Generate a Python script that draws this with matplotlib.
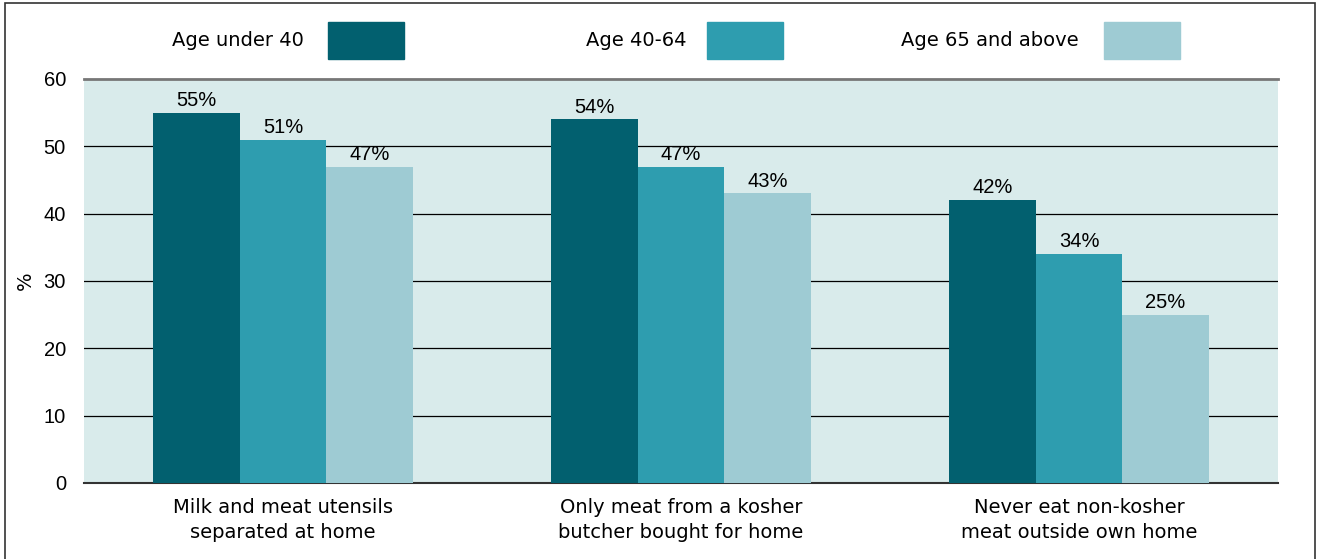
import matplotlib.pyplot as plt
from matplotlib.patches import Rectangle
import numpy as np

plt.rcParams['font.family'] = ['Liberation Sans', 'DejaVu Sans']

categories = ["Milk and meat utensils\nseparated at home",
              "Only meat from a kosher\nbutcher bought for home",
              "Never eat non-kosher\nmeat outside own home"]
groups = ["Age under 40", "Age 40-64", "Age 65 and above"]
under40 = [55, 54, 42]
age40_64 = [51, 47, 34]
over65 = [47, 43, 25]
colors = ["#02606f", "#2e9daf", "#9ecbd3"]

fig = plt.figure(figsize=(13.22, 5.59), dpi=100)
ax = fig.add_axes([0.0635, 0.136, 0.9032, 0.7227])
ax.set_facecolor("#d9ebeb")

x = np.arange(len(categories))
w = 0.217
for i, (vals, c) in enumerate(zip([under40, age40_64, over65], colors)):
    bars = ax.bar(x + (i - 1) * w, vals, w, color=c, zorder=3)
    for b, v in zip(bars, vals):
        ax.annotate(f"{v}%", (b.get_x() + b.get_width() / 2, v), xytext=(0, 2),
                    textcoords="offset points", ha="center", va="bottom", fontsize=14.5)

for y in range(10, 60, 10):
    ax.axhline(y, color="black", lw=0.9, zorder=2)

ax.set_xlim(-0.5, 2.5)
ax.set_ylim(0, 60)
ax.set_yticks(range(0, 61, 10))
ax.set_xticks(x)
ax.set_xticklabels(categories, fontsize=14, linespacing=1.45, family="DejaVu Sans")
ax.tick_params(axis="y", length=0, labelsize=14.5, pad=13)
ax.tick_params(axis="x", length=0, pad=10.5)
ax.set_ylabel("%", fontsize=14, labelpad=6, family="DejaVu Sans")
for s in ["left", "right"]:
    ax.spines[s].set_visible(False)
ax.spines["top"].set_color("#777777")
ax.spines["top"].set_linewidth(2)
ax.spines["bottom"].set_color("#333333")
ax.spines["bottom"].set_linewidth(1.5)

# legend, labels left of the swatches
leg_text_x = [238, 636, 990]
leg_patch_x = [328, 707, 1104]
W, H = 1322, 559
for name, tx, px, c in zip(groups, leg_text_x, leg_patch_x, colors):
    fig.text(tx / W, 1 - 41 / H, name, ha="center", va="center", fontsize=14, family="DejaVu Sans")
    fig.patches.append(Rectangle((px / W, 1 - 59 / H), 76 / W, 37 / H,
                                 transform=fig.transFigure, color=c, figure=fig))

# frame
fig.patches.append(Rectangle((5 / W, -0.05), 1310 / W, 1.05 - 2.5 / H, transform=fig.transFigure,
                             fill=False, edgecolor="#333333", lw=1.2, figure=fig))

fig.savefig("out.png", dpi=100)
